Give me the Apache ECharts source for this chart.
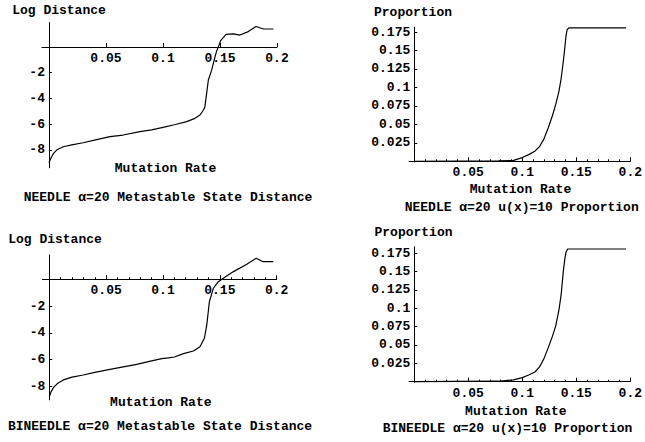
<!DOCTYPE html>
<html><head><meta charset="utf-8">
<script src="https://cdn.jsdelivr.net/npm/echarts@6/dist/echarts.min.js"></script>
<style>html,body{margin:0;padding:0;background:#fff}#c{width:645px;height:442px}</style>
</head><body><div id="c"></div>
<script>
// ---- tick values ----
const xTickValues = [0.05, 0.1, 0.15, 0.2];
const xMinorTickValues = [0.01,0.02,0.03,0.04,0.06,0.07,0.08,0.09,0.11,0.12,0.13,0.14,0.16,0.17,0.18,0.19];
const logTickValues = [-8, -6, -4, -2];
const propTickValues = [0.025, 0.05, 0.075, 0.1, 0.125, 0.15, 0.175];

// ---- series data [mutation rate, value] ----
const needleDistance = [
  [0,-9.0],[0.002,-8.6],[0.0038,-8.3],[0.007,-8.0],[0.0126,-7.76],[0.02,-7.62],[0.03,-7.45],
  [0.04,-7.25],[0.0535,-6.98],[0.065,-6.85],[0.0798,-6.59],[0.09,-6.45],[0.1,-6.25],[0.11,-6.05],
  [0.1208,-5.81],[0.128,-5.55],[0.1325,-5.29],[0.1355,-4.9],[0.1368,-4.64],[0.138,-3.8],
  [0.1398,-2.57],[0.1427,-1.8],[0.1455,-0.8],[0.1471,-0.3],[0.1485,0],[0.1506,0.5],[0.1553,0.99],
  [0.1617,1.02],[0.1675,0.93],[0.1748,1.2],[0.1816,1.6],[0.188,1.4],[0.1968,1.4]
];
const needleProportion = [
  [0,0],[0.078,0.0005],[0.092,0.0012],[0.1,0.005],[0.106,0.009],[0.112,0.014],[0.116,0.02],
  [0.12,0.03],[0.124,0.045],[0.128,0.062],[0.131,0.077],[0.134,0.095],[0.136,0.112],[0.138,0.135],
  [0.1395,0.155],[0.1405,0.17],[0.1415,0.178],[0.143,0.1805],[0.196,0.1805]
];
const bineedleDistance = [
  [0,-8.76],[0.0015,-8.4],[0.0036,-8.09],[0.0075,-7.75],[0.0123,-7.51],[0.02,-7.3],[0.0299,-7.14],
  [0.04,-6.95],[0.0534,-6.72],[0.065,-6.53],[0.0769,-6.35],[0.088,-6.12],[0.0989,-5.92],[0.105,-5.86],
  [0.11,-5.8],[0.118,-5.55],[0.1267,-5.35],[0.1325,-5.03],[0.1364,-4.4],[0.1385,-3.41],[0.1408,-1.67],
  [0.1443,-0.67],[0.1487,-0.18],[0.153,0.07],[0.162,0.57],[0.1737,1.12],[0.182,1.57],[0.188,1.31],[0.197,1.31]
];
const bineedleProportion = [
  [0,0],[0.078,0.0006],[0.092,0.0025],[0.1,0.0055],[0.106,0.009],[0.112,0.0135],[0.116,0.02],
  [0.12,0.031],[0.124,0.046],[0.128,0.062],[0.131,0.076],[0.134,0.098],[0.136,0.118],[0.138,0.15],
  [0.1395,0.168],[0.1405,0.176],[0.142,0.1805],[0.196,0.1805]
];

// ---- texts ----
const panelTexts = [
  {yName:'Log Distance', xName:'Mutation Rate', title:'NEEDLE \u03b1=20 Metastable State Distance'},
  {yName:'Proportion', xName:'Mutation Rate', title:'NEEDLE \u03b1=20 u(x)=10 Proportion'},
  {yName:'Log Distance', xName:'Mutation Rate', title:'BINEEDLE \u03b1=20 Metastable State Distance'},
  {yName:'Proportion', xName:'Mutation Rate', title:'BINEEDLE \u03b1=20 u(x)=10 Proportion'}
];

const FONT_FAMILY = '"Liberation Mono", "DejaVu Sans Mono", monospace';
const FONT = 'bold 13px ' + FONT_FAMILY;

const layout = [
  {grid:{left:42, top:22.6, width:235, height:145.2}, x:[-0.0061,0.2], y:[-9.4,1.9], yTicks:logTickValues, minor:false, data:needleDistance,
   pos:{yName:[59,10], xName:[165.5,168], title:[168,197]}},
  {grid:{left:409, top:27.2, width:225.3, height:134.8}, x:[-0.0048,0.2], y:[-0.001,0.1815], yTicks:propTickValues, minor:true, data:needleProportion,
   pos:{yName:[413,12], xName:[520.5,189], title:[521.7,207]}},
  {grid:{left:42.5, top:255, width:234.2, height:144.9}, x:[-0.006,0.2], y:[-9.0,1.81], yTicks:logTickValues, minor:true, data:bineedleDistance,
   pos:{yName:[55,239], xName:[160.8,402], title:[160,426.7]}},
  {grid:{left:409, top:246.8, width:225.3, height:135.6}, x:[-0.0048,0.2], y:[-0.001,0.1835], yTicks:propTickValues, minor:true, data:bineedleProportion,
   pos:{yName:[413.5,232.3], xName:[515.8,411], title:[507.5,428.3]}}
];

const labelStyle = {color:'#000', fontFamily:FONT_FAMILY, fontSize:13, fontWeight:'bold'};
const grids = [], xAxes = [], yAxes = [], series = [], graphics = [];

layout.forEach((p, i) => {
  grids.push(Object.assign({containLabel:false}, p.grid));
  // move the axes so that they cross at (0, 0), as in the reference
  const xOffset = -(0 - p.y[0]) / (p.y[1] - p.y[0]) * p.grid.height;
  const yOffset = -(0 - p.x[0]) / (p.x[1] - p.x[0]) * p.grid.width;
  xAxes.push({
    gridIndex:i, type:'value', min:p.x[0], max:p.x[1], position:'bottom', offset:xOffset,
    axisLine:{show:true, onZero:false, lineStyle:{color:'#000', width:1}},
    axisTick:{show:true, inside:true, length:4, customValues:xTickValues, lineStyle:{color:'#000', width:1}},
    axisLabel:Object.assign({show:true, customValues:xTickValues, margin:5, showMinLabel:true, showMaxLabel:true,
      formatter:v => String(v)}, labelStyle),
    splitLine:{show:false}
  });
  xAxes.push({
    gridIndex:i, type:'value', min:p.x[0], max:p.x[1], position:'bottom', offset:xOffset,
    axisLine:{show:false, onZero:false},
    axisTick:{show:p.minor, inside:true, length:2, customValues:xMinorTickValues, lineStyle:{color:'#000', width:1}},
    axisLabel:{show:false},
    splitLine:{show:false}
  });
  yAxes.push({
    gridIndex:i, type:'value', min:p.y[0], max:p.y[1], position:'left', offset:yOffset,
    axisLine:{show:true, onZero:false, lineStyle:{color:'#000', width:1}},
    axisTick:{show:true, inside:true, length:3, customValues:p.yTicks, lineStyle:{color:'#000', width:1}},
    axisLabel:Object.assign({show:true, customValues:p.yTicks, margin:4, showMinLabel:true, showMaxLabel:true,
      formatter:v => String(v)}, labelStyle),
    splitLine:{show:false}
  });
  series.push({
    type:'line', xAxisIndex:2*i, yAxisIndex:i, data:p.data, showSymbol:false, symbol:'none',
    lineStyle:{color:'#000', width:1.2}, silent:true, animation:false
  });
  const t = panelTexts[i];
  [['yName', t.yName], ['xName', t.xName], ['title', t.title]].forEach(([k, txt]) => {
    graphics.push({
      type:'text', x:p.pos[k][0], y:p.pos[k][1], silent:true,
      style:{text:txt, fill:'#000', font:FONT, align:'center', verticalAlign:'middle',
             textAlign:'center', textVerticalAlign:'middle'}
    });
  });
});

const chart = echarts.init(document.getElementById('c'), null, {renderer:'svg', width:645, height:442});
chart.setOption({
  animation:false,
  backgroundColor:'#fff',
  grid:grids, xAxis:xAxes, yAxis:yAxes, series:series,
  graphic:graphics
});
</script>
</body></html>
